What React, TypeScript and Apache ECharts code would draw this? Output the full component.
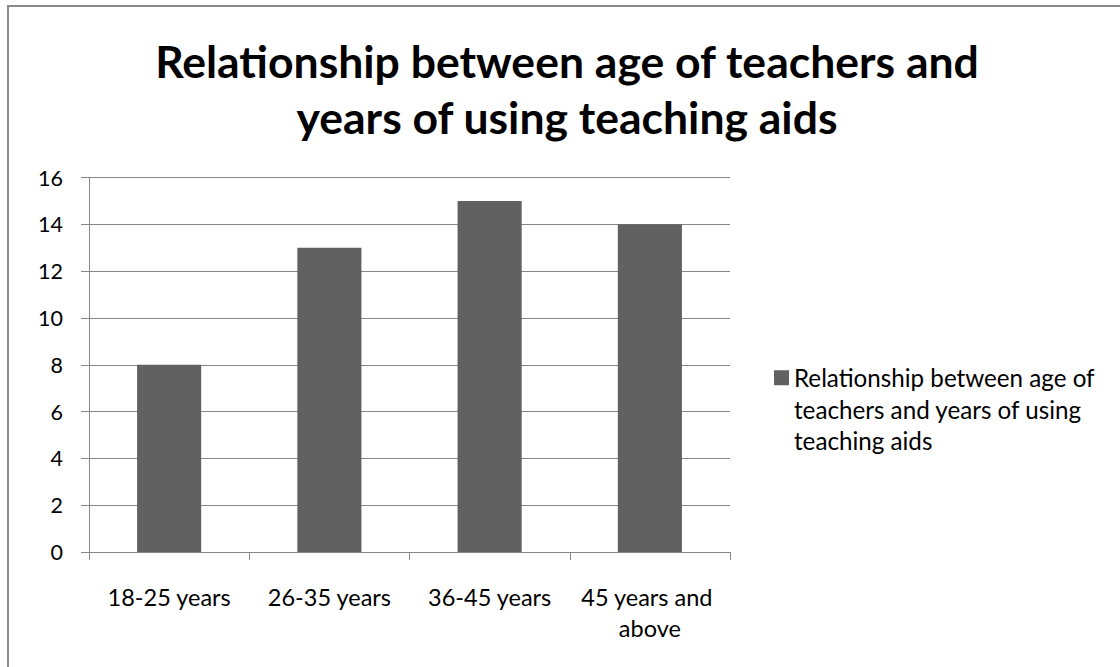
import React, { useEffect, useRef } from "react";
import * as echarts from "echarts";

const titleText = "Relationship between age of teachers and\nyears of using teaching aids";
const seriesName = "Relationship between age of teachers and years of using teaching aids";
const legendLines = ["Relationship between age of", "teachers and years of using", "teaching aids"];
const categories = ["18-25 years", "26-35 years", "36-45 years", "45 years and above"];
const values = [8, 13, 15, 14];
const yMin = 0;
const yMax = 16;
const yInterval = 2;

const FONT = "Lato";
const GRAY = "#868686";
const BAR = "#616161";

export default function App() {
  const ref = useRef<HTMLDivElement>(null);
  useEffect(() => {
    if (!ref.current) return;
    const chart = echarts.init(ref.current, null, { renderer: "svg" });
    chart.setOption({
      animation: false,
      backgroundColor: "#ffffff",
      textStyle: { fontFamily: FONT },
      graphic: [
        {
          type: "rect",
          shape: { x: 8, y: 6, width: 1300, height: 900 },
          style: { fill: "none", stroke: "#8a8a8a", lineWidth: 2 },
          silent: true,
          z: -1,
        },
      ],
      title: {
        text: titleText,
        left: 567,
        textAlign: "center",
        top: 32,
        padding: 0,
        textStyle: {
          fontFamily: FONT,
          fontWeight: "bold",
          fontSize: 44.5,
          lineHeight: 56,
          color: "#000",
        },
      },
      legend: {
        show: true,
        left: 774,
        top: 299,
        padding: 0,
        itemWidth: 15,
        itemHeight: 15,
        itemGap: 10,
        icon: "rect",
        formatter: () => "\n\n" + legendLines.join("\n"),
        textStyle: {
          fontFamily: FONT,
          fontSize: 24.2,
          lineHeight: 31.5,
          color: "#000",
        },
        data: [seriesName],
      },
      grid: {
        left: 89,
        right: 390,
        top: 177.5,
        bottom: 115,
        containLabel: false,
      },
      xAxis: {
        type: "category",
        data: categories,
        axisLine: { show: true, lineStyle: { color: GRAY, width: 1 } },
        axisTick: { show: true, length: 8, inside: false, alignWithLabel: false, lineStyle: { color: GRAY } },
        axisLabel: {
          fontFamily: FONT,
          fontSize: 23.5,
          lineHeight: 31,
          color: "#000",
          margin: 29,
          width: 155,
          overflow: "break",
          interval: 0,
        },
        splitLine: { show: false },
      },
      yAxis: {
        type: "value",
        min: yMin,
        max: yMax,
        interval: yInterval,
        axisLine: { show: true, lineStyle: { color: GRAY, width: 1 } },
        axisTick: { show: true, length: 8, inside: false, lineStyle: { color: GRAY } },
        axisLabel: {
          fontFamily: FONT,
          fontSize: 21.5,
          color: "#000",
          margin: 26,
        },
        splitLine: { show: true, lineStyle: { color: GRAY, width: 1 } },
      },
      series: [
        {
          name: seriesName,
          type: "bar",
          data: values,
          barWidth: "40%",
          itemStyle: { color: BAR },
        },
      ],
    });
    return () => chart.dispose();
  }, []);
  return (
    <div
      ref={ref}
      style={{ position: "fixed", left: 0, top: 0, width: 1120, height: 667 }}
    />
  );
}
